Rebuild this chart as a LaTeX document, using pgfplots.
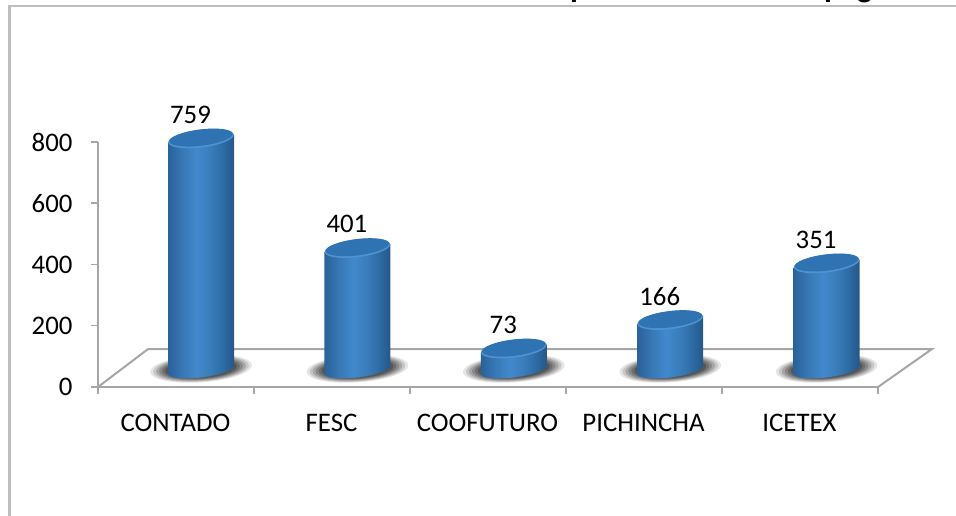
\documentclass[border=0pt]{standalone}
\usepackage{fontspec}
\setmainfont{Carlito}
\usepackage{pgfplots}
\usepackage{pgfplotstable}
\pgfplotsset{compat=1.18}
\pgfdeclareplotmark{fcirc}{\pgfpathcircle{\pgfpointorigin}{\pgfplotmarksize}\pgfusepathqfill}
\definecolor{axgray}{HTML}{A6A6A6}
\definecolor{frameg}{HTML}{BDBDBD}
\definecolor{ctop}{HTML}{2F73B3}
\definecolor{crim}{HTML}{4E93D2}
\definecolor{cA}{HTML}{2A6199}
\definecolor{cB}{HTML}{3878B5}
\definecolor{cC}{HTML}{4189CC}
\definecolor{cD}{HTML}{3A7DBB}
\definecolor{cE}{HTML}{2D6AA3}
\definecolor{cF}{HTML}{25568A}
\pgfdeclarehorizontalshading{cyl}{100bp}{color(0bp)=(cA); color(25bp)=(cA); color(36bp)=(cB); color(47bp)=(cC); color(57bp)=(cD); color(67bp)=(cE); color(75bp)=(cF); color(100bp)=(cF)}
\pgfplotstableread{
px py top
-33 -4 1
33 4 1
33 5.5 0
31.9 3.29 0
28.6 0.96 0
23.3 -1.33 0
16.5 -3.43 0
8.5 -5.19 0
0 -6.5 0
-8.5 -7.26 0
-16.5 -7.43 0
-23.3 -6.99 0
-28.6 -5.96 0
-31.9 -4.43 0
-33 -2.5 0
}\cyltpl
\newcommand\cylbody[2]{\addplot[draw=none,shade,shading=cyl,shading angle=0,forget plot,no markers]
 table[x expr=\thisrow{px}/156.4+#1,y expr=\thisrow{py}*3.265+\thisrow{top}*#2]{\cyltpl};}
\newcommand\shadowlayer[2]{\addplot[only marks,forget plot,mark=fcirc,mark size=#1pt,
 mark options={fill=black,fill opacity=#2,rotate=4,yscale=.27}]
 coordinates {(0,8) (1,8) (2,8) (3,8) (4,8)};}
\begin{document}
\begin{tikzpicture}[x=1pt,y=1pt]
\useasboundingbox (0,0) rectangle (956,516);
% frame
\fill[frameg] (8,0) rectangle (11,510);
\fill[frameg] (8,509) rectangle (956,510.5);
% clipped title, only its descenders fall on the page
\node[anchor=base west,inner sep=0pt,font=\bfseries\fontsize{32}{36}\selectfont] at (570,518.5) {p};
\node[anchor=base west,inner sep=0pt,font=\bfseries\fontsize{32}{36}\selectfont] at (824,518.5) {pago};
\begin{axis}[
  at={(98pt,129pt)},anchor=south west,
  scale only axis,width=780pt,height=245pt,
  xmin=-0.5,xmax=4.5,ymin=0,ymax=800,
  axis x line=bottom,axis y line=left,
  axis line style={-,draw=axgray,line width=2pt},
  tick style={draw=axgray,line width=1.5pt},
  tick align=outside,major tick length=7pt,
  xtick={-0.5,0.5,1.5,2.5,3.5,4.5},
  xticklabels={CONTADO,FESC,COOFUTURO,PICHINCHA,ICETEX,{}},
  xticklabel style={anchor=base,yshift=-38pt,xshift=77.5pt},
  ytick={0,200,400,600,800},
  /pgf/number format/assume math mode=true,
  yticklabel style={anchor=east,xshift=-15pt},
  tick label style={font=\fontsize{26.8}{30}\selectfont},
  clip=false,
]
\addplot[draw=axgray,line width=2pt,forget plot,no markers]
  coordinates {(4.5,0) (4.846,124) (-0.179,124) (-0.5,0)};
\end{axis}
\begin{axis}[
  at={(98pt,129pt)},anchor=south west,
  scale only axis,width=780pt,height=245pt,
  xmin=-0.6586,xmax=4.3286,ymin=-52.2,ymax=747.8,
  hide axis,clip=false,clip mode=individual,
]
\shadowlayer{51}{0.10}
\shadowlayer{48}{0.13}
\shadowlayer{45}{0.16}
\shadowlayer{42}{0.18}
\shadowlayer{39}{0.20}
\shadowlayer{36}{0.22}
\cylbody{0}{759}
\cylbody{1}{401}
\cylbody{2}{73}
\cylbody{3}{166}
\cylbody{4}{351}
\addplot[only marks,forget plot,mark=fcirc,mark size=33pt,
  mark options={fill=crim,rotate=7,yscale=.27}]
  coordinates {(0,759) (1,401) (2,73) (3,166) (4,351)};
\addplot[only marks,forget plot,mark=fcirc,mark size=32pt,
  nodes near coords,
  nodes near coords style={anchor=center,xshift=-10.5pt,yshift=23pt,font=\fontsize{26.8}{30}\selectfont,text=black},
  /pgf/number format/assume math mode=true,
  mark options={fill=ctop,yshift=1pt,rotate=7,yscale=.255}]
  coordinates {(0,759) (1,401) (2,73) (3,166) (4,351)};
\end{axis}
\end{tikzpicture}
\end{document}
